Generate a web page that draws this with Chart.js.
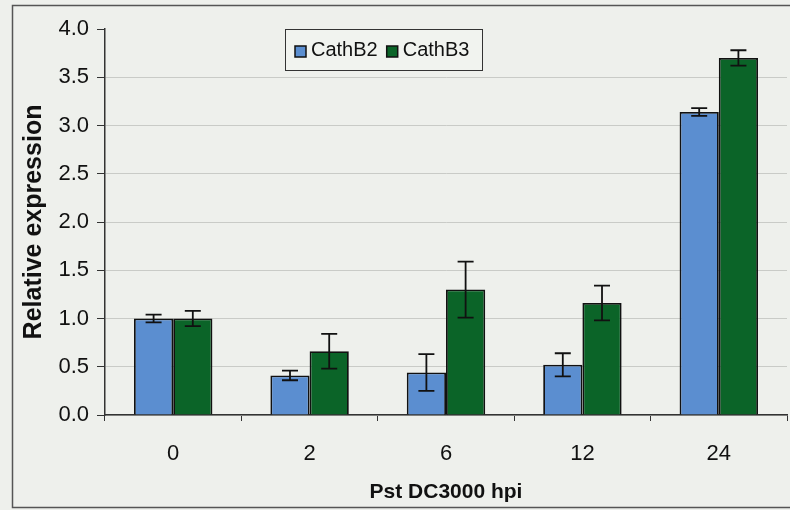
<!DOCTYPE html>
<html>
<head>
<meta charset="utf-8">
<script src="https://cdn.jsdelivr.net/npm/chart.js@4"></script>
<style>
  body { margin: 0; background: #eef0ec; }
  #wrap { width: 790px; height: 510px; }
</style>
</head>
<body>
<div id="wrap"><canvas id="chart" width="790" height="510"></canvas></div>
<script>
const categories = ['0', '2', '6', '12', '24'];
const cathB2 = [1.00, 0.41, 0.44, 0.52, 3.14];
const cathB2Err = [0.04, 0.05, 0.19, 0.12, 0.04];
const cathB3 = [1.00, 0.66, 1.30, 1.16, 3.70];
const cathB3Err = [0.08, 0.18, 0.29, 0.18, 0.08];

const errors = [cathB2Err, cathB3Err];

// background + outer frame
const framePlugin = {
  id: 'frame',
  beforeDraw(chart) {
    const c = chart.ctx;
    c.save();
    c.fillStyle = '#eef0ec';
    c.fillRect(0, 0, chart.width, chart.height);
    c.restore();
  },
  afterDraw(chart) {
    const c = chart.ctx;
    c.save();
    c.strokeStyle = '#555';
    c.lineWidth = 1.5;
    c.strokeRect(12.5, 5.5, 800, 502);
    c.restore();
  }
};

// error bars drawn on top of the bars
const errorBars = {
  id: 'errorBars',
  afterDatasetsDraw(chart) {
    const c = chart.ctx;
    const y = chart.scales.y;
    c.save();
    c.strokeStyle = '#111';
    c.lineWidth = 1.8;
    chart.data.datasets.forEach((ds, i) => {
      const meta = chart.getDatasetMeta(i);
      meta.data.forEach((bar, j) => {
        const v = ds.data[j], e = errors[i][j];
        const top = y.getPixelForValue(v + e);
        const bot = y.getPixelForValue(v - e);
        c.beginPath();
        c.moveTo(bar.x, top); c.lineTo(bar.x, bot);
        c.moveTo(bar.x - 8, top); c.lineTo(bar.x + 8, top);
        c.moveTo(bar.x - 8, bot); c.lineTo(bar.x + 8, bot);
        c.stroke();
      });
    });
    c.restore();
  }
};

// boxed legend inside the plot area
const boxLegend = {
  id: 'boxLegend',
  afterDraw(chart) {
    const c = chart.ctx;
    c.save();
    c.fillStyle = '#f1f3ef';
    c.fillRect(285.5, 29.5, 197, 41);
    c.strokeStyle = '#333';
    c.lineWidth = 1;
    c.strokeRect(285.5, 29.5, 197, 41);
    c.font = '20px "Liberation Sans", Arial, sans-serif';
    c.textBaseline = 'middle';
    let x = 295;
    chart.data.datasets.forEach(ds => {
      c.fillStyle = ds.backgroundColor;
      c.fillRect(x, 46, 11, 11);
      c.strokeStyle = '#111';
      c.lineWidth = 1.5;
      c.strokeRect(x, 46, 11, 11);
      c.fillStyle = '#111';
      c.fillText(ds.label, x + 16, 50);
      x += 16 + c.measureText(ds.label).width + 9;
    });
    c.restore();
  }
};

const family = '"Liberation Sans", Arial, sans-serif';
const tickFont = { family: family, size: 22 };

new Chart(document.getElementById('chart'), {
  type: 'bar',
  data: {
    labels: categories,
    datasets: [
      { label: 'CathB2', data: cathB2, backgroundColor: '#5b8ed0', borderColor: '#111', borderWidth: 1.8 },
      { label: 'CathB3', data: cathB3, backgroundColor: '#0b6428', borderColor: '#111', borderWidth: 1.8 }
    ]
  },
  options: {
    responsive: false,
    animation: false,
    layout: { padding: { top: 29, right: 3, left: 0, bottom: 0 } },
    datasets: { bar: { categoryPercentage: 0.575, barPercentage: 1 } },
    plugins: { legend: { display: false }, tooltip: { enabled: false } },
    scales: {
      x: {
        grid: { drawOnChartArea: false, tickColor: '#333', tickLength: 6, offset: true },
        border: { color: '#333', width: 1.5 },
        ticks: { font: tickFont, color: '#111', padding: 20 },
        title: { display: true, text: 'Pst DC3000 hpi', font: { family: family, size: 21, weight: 'bold' }, color: '#111', padding: { top: 0, bottom: 5 } },
        afterFit(s) { s.height = 95; }
      },
      y: {
        min: 0, max: 4,
        ticks: { stepSize: 0.5, font: tickFont, color: '#111', padding: 8, callback: v => v.toFixed(1) },
        grid: { color: ctx => ctx.tick.value === 4 ? 'rgba(0,0,0,0)' : '#c9cbc7', tickColor: '#333', tickLength: 8 },
        border: { color: '#333', width: 1.5 },
        title: { display: true, text: 'Relative expression', font: { family: family, size: 25, weight: 'bold' }, color: '#111', padding: { top: 19, bottom: 0 } },
        afterFit(s) { s.width = 105; }
      }
    }
  },
  plugins: [framePlugin, errorBars, boxLegend]
});
</script>
</body>
</html>
